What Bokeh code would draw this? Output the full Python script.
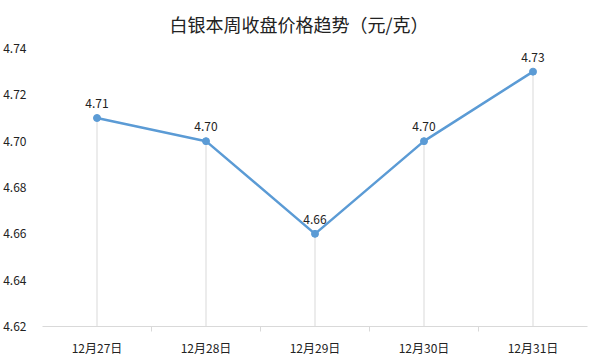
from bokeh.plotting import figure
from bokeh.models import FixedTicker, NumeralTickFormatter, ColumnDataSource, Range1d
from bokeh.core.properties import value
from bokeh.embed import file_html
from bokeh.resources import INLINE

categories = ["12月27日", "12月28日", "12月29日", "12月30日", "12月31日"]
prices = [4.71, 4.70, 4.66, 4.70, 4.73]
y_ticks = [4.62, 4.64, 4.66, 4.68, 4.70, 4.72, 4.74]
title_text = "白银本周收盘价格趋势（元/克）"

FONT = "Noto Sans CJK SC"
BLUE = "#5B9BD5"
GREY = "#D9D9D9"

xs = list(range(len(categories)))
ymin, ymax = y_ticks[0], y_ticks[-1]

src = ColumnDataSource(dict(
    x=xs, y=prices, y0=[ymin] * len(xs),
    lab=["%.2f" % v for v in prices],
))

p = figure(width=600, height=358, output_backend="svg", toolbar_location=None,
           x_range=Range1d(-0.5, len(categories) - 0.5), y_range=Range1d(ymin, ymax),
           min_border_left=42, min_border_right=13, min_border_top=48, min_border_bottom=31)
p.title.text = title_text
p.title.align = "left"
p.title.offset = 127
p.title.vertical_align = "top"
p.title.text_font = FONT
p.title.text_font_size = "18px"
p.title.text_font_style = "normal"
p.title.text_color = "#222222"
p.title.standoff = 20

p.outline_line_color = None
p.xgrid.visible = False
p.ygrid.visible = False

# x axis
p.xaxis.ticker = FixedTicker(ticks=xs, minor_ticks=[i + 0.5 for i in xs[:-1]])
p.xaxis.major_label_overrides = {i: c for i, c in zip(xs, categories)}
p.xaxis.axis_line_color = GREY
p.xaxis.major_tick_line_color = None
p.xaxis.minor_tick_line_color = GREY
p.xaxis.minor_tick_out = 5
p.xaxis.minor_tick_in = 0
p.xaxis.major_label_text_font = FONT
p.xaxis.major_label_text_font_size = "12px"
p.xaxis.major_label_text_color = "#222222"
p.xaxis.major_label_standoff = 6

# y axis
p.yaxis.ticker = FixedTicker(ticks=y_ticks)
p.yaxis.formatter = NumeralTickFormatter(format="0.00")
p.yaxis.axis_line_color = None
p.yaxis.major_tick_line_color = None
p.yaxis.minor_tick_line_color = None
p.yaxis.major_label_text_font = FONT
p.yaxis.major_label_text_font_size = "12px"
p.yaxis.major_label_text_color = "#222222"
p.yaxis.major_label_standoff = 10

p.segment(x0="x", y0="y0", x1="x", y1="y", source=src, line_color=GREY, line_width=1)
p.line(x="x", y="y", source=src, line_color=BLUE, line_width=2.5)
p.scatter(x="x", y="y", source=src, size=7, fill_color=BLUE, line_color=BLUE)
p.text(x="x", y="y", text="lab", source=src, text_align="center", text_baseline="bottom",
       y_offset=-10, text_font=value(FONT), text_font_size="12px", text_color="#222222")

open("out.html", "w").write(file_html(p, INLINE))
